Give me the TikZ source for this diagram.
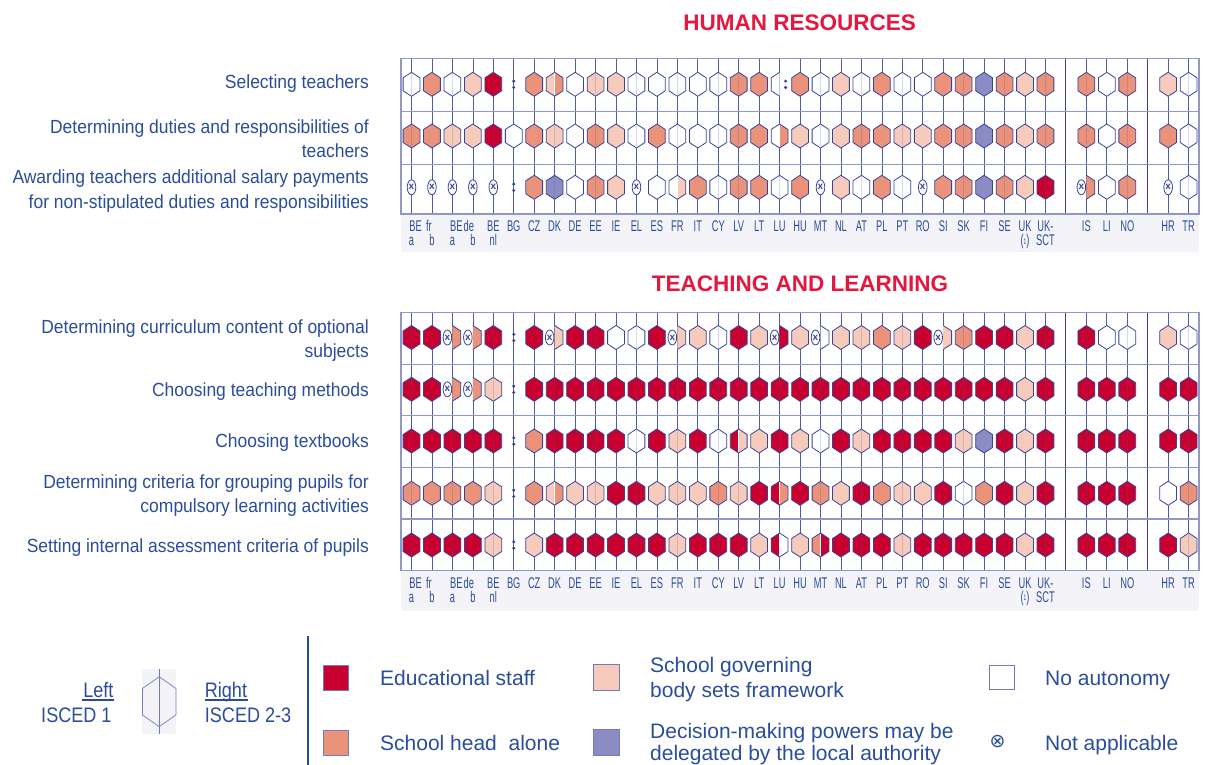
\documentclass[tikz,border=0pt]{standalone}
\usepackage{fontspec}
\setmainfont{Liberation Sans}
\newfontfamily\rowfont[FakeStretch=0.92]{Liberation Sans}
\newfontfamily\legfont[FakeStretch=0.86]{Liberation Sans}
\newfontfamily\ctyfont[FakeStretch=0.6]{Liberation Sans}
\newfontfamily\symfont{DejaVu Sans}
\definecolor{cR}{HTML}{C8002F}
\definecolor{cH}{HTML}{EA927A}
\definecolor{cG}{HTML}{F6CBBB}
\definecolor{cP}{HTML}{8C8CC4}
\definecolor{cW}{HTML}{FFFFFF}
\definecolor{txtblue}{HTML}{2A4D9C}
\definecolor{hexblue}{HTML}{3A4496}
\definecolor{gridv}{HTML}{4F5AA8}
\definecolor{gridh}{HTML}{9297CA}
\definecolor{titlered}{HTML}{E5173F}
\definecolor{stripc}{HTML}{F4F4F8}
\definecolor{sepblue}{HTML}{2A4AA0}
\newcommand\hxw{8.4}
\newcommand\hxs{6.5}
\newcommand\hxt{12}
\newcommand\halfL[3]{%
  \fill[c#3] (#1,#2-\hxt) -- (#1-\hxw,#2-\hxs) -- (#1-\hxw,#2+\hxs) -- (#1,#2+\hxt) -- cycle;
  \draw[hexline] (#1,#2-\hxt) -- (#1-\hxw,#2-\hxs) -- (#1-\hxw,#2+\hxs) -- (#1,#2+\hxt);}
\newcommand\halfR[3]{%
  \fill[c#3] (#1,#2-\hxt) -- (#1+\hxw,#2-\hxs) -- (#1+\hxw,#2+\hxs) -- (#1,#2+\hxt) -- cycle;
  \draw[hexline] (#1,#2-\hxt) -- (#1+\hxw,#2-\hxs) -- (#1+\hxw,#2+\hxs) -- (#1,#2+\hxt);}
\newcommand\notavail[2]{\fill[hexblue] (#1,#2-3.2) circle (1.7) (#1,#2+3.2) circle (1.7);}
\newcommand\naell[2]{%
  \draw[hexline,fill=white] (#1,#2) ellipse (4.3 and 7.5);
  \path (#1,#2) node[font=\bfseries\fontsize{10}{10}\selectfont, text=hexblue, inner sep=0] {x};}
\def\cellx#1#2#3#4\relax{%
  \if#3S\else
  \if#3N\notavail{#1}{#2}\else
  \if#3X
    \if#4X\naell{#1}{#2}\else\naell{#1-5}{#2}\halfR{#1}{#2}{#4}\fi
  \else
    \if#4N\halfL{#1}{#2}{#3}\notavail{#1+6}{#2}\else
      \halfL{#1}{#2}{#3}\halfR{#1}{#2}{#4}%
      \if#3#4\else\draw[white,line width=0.7pt] (#1,#2-11) -- (#1,#2+11);\fi
    \fi
  \fi\fi\fi}
\newcommand\drawrow[2]{%
  \foreach \code [count=\k from 0] in {#2} {
    \pgfmathsetmacro\cx{411.5+20.45*\k}
    \edef\tmp{\noexpand\cellx{\cx}{#1}\code\noexpand\relax}\tmp
  }}
\newcommand\chartframe[3]{%
  \fill[stripc] (401,#2) rectangle (1199,#3);
  \fill[white] (401,#1) rectangle (1199,#2);
  \foreach \k in {0,...,31,33,34,35,37,38} {\draw[vline] ({411.5+20.45*\k},#1) -- ({411.5+20.45*\k},#2);}
  \draw[sepline] (1065.9,#1) -- (1065.9,#2);
  \draw[sepline] (1147.7,#1) -- (1147.7,#2);}
\newcommand\supone{(\raisebox{1.5pt}{\fontsize{8}{8}\selectfont 1})}
\newcommand\ctylabels[1]{%
  \foreach \k/\dx/\la/\lb in {0/4/BE/a,1/-3/fr/b,2/4/BE/a,3/-4/de/b,4/0/BE/nl,5/0/BG/,6/0/CZ/,7/0/DK/,8/0/DE/,9/0/EE/,10/0/IE/,11/0/EL/,12/0/ES/,13/0/FR/,14/0/IT/,15/0/CY/,16/0/LV/,17/0/LT/,18/0/LU/,19/0/HU/,20/0/MT/,21/0/NL/,22/0/AT/,23/0/PL/,24/0/PT/,25/0/RO/,26/0/SI/,27/0/SK/,28/0/FI/,29/0/SE/,30/0/UK/\supone,31/0/UK-/SCT,33/0/IS/,34/0/LI/,35/0/NO/,37/0/HR/,38/0/TR/} {
    \node[ctylab] (ca\k-#1) at ({411.5+20.45*\k+\dx},#1+17.7) {\la};
    \node[ctylab] (cb\k-#1) at ({411.5+20.45*\k},#1+31.5) {\lb};
  }}
\begin{document}
\begin{tikzpicture}[x=1pt,y=-1pt,
  hexline/.style={draw=hexblue,line width=0.8pt,line join=round},
  vline/.style={draw=gridv,line width=0.7pt},
  hline/.style={draw=gridh,line width=1.2pt},
  sepline/.style={draw=hexblue,line width=0.9pt},
  rowlab/.style={anchor=base east,inner sep=0,text=txtblue,font=\rowfont\fontsize{19}{23}\selectfont},
  ctylab/.style={anchor=base,inner sep=0,text=txtblue,font=\ctyfont\fontsize{15.5}{16}\selectfont},
  legtxt/.style={anchor=base west,inner sep=0,text=txtblue,font=\fontsize{21}{25}\selectfont},
  legleft/.style={inner sep=0,text=txtblue,font=\legfont\fontsize{21}{25}\selectfont},
  titletxt/.style={anchor=base,inner sep=0,text=titlered,font=\bfseries\fontsize{22.5}{26}\selectfont},
  legsq/.style={draw=hexblue!70,line width=0.6pt}]
\useasboundingbox (0,0) rectangle (1208,765);
\fill[white] (0,0) rectangle (1208,765);

% ---------- titles
\node[titletxt] (t1) at (799.7,30.7) {HUMAN RESOURCES};
\node[titletxt] (t2) at (800,291) {TEACHING AND LEARNING};

% ---------- chart 1
\chartframe{58.3}{214}{252}
\draw[hline] (401,111.7) -- (1199,111.7);
\draw[hline] (401,164.3) -- (1199,164.3);
\draw[hline] (401,58.3) rectangle (1199,214);
\drawrow{84.3}{WW,HH,WW,GG,RR,NN,HH,GH,WW,GG,GG,WW,WW,WW,WW,WW,HH,HH,WN,HH,WW,GG,WW,HH,WW,WW,HH,HH,PP,HH,GG,HH,SS,HH,WW,HH,SS,GG,WW}
\drawrow{136}{HH,HH,GG,GG,RR,WW,HH,GG,WW,HH,GG,WW,HH,WW,WW,WW,HH,HH,WH,GG,WW,GG,HH,HH,GG,GG,HH,HH,PP,HH,GG,HH,SS,HH,WW,HH,SS,HH,WW}
\drawrow{187.3}{XX,XX,XX,XX,XX,NN,HH,PP,WW,HH,GG,XX,WW,WG,HH,WW,HH,HH,WW,HH,XX,GG,WW,HH,WW,XX,HH,HH,PP,HH,GG,RR,SS,XH,WW,HH,SS,XX,WW}
\ctylabels{214}

\node[rowlab] (r1) at (369,89) {Selecting teachers};
\node[rowlab] (r2a) at (369,134) {Determining duties and responsibilities of};
\node[rowlab] (r2b) at (369,157.3) {teachers};
\node[rowlab] (r3a) at (369,184) {Awarding teachers additional salary payments};
\node[rowlab] (r3b) at (369,208) {for non-stipulated duties and responsibilities};

% ---------- chart 2
\chartframe{312.3}{570.7}{611}
\foreach \yy in {364.3,415.5,467.3,519} {\draw[hline] (401,\yy) -- (1199,\yy);}
\draw[hline] (401,312.3) rectangle (1199,570.7);
\drawrow{337.5}{RR,RR,XH,XH,RR,NN,RR,XG,RR,RR,WW,WW,RR,XG,GG,WW,RR,GG,XR,GG,XW,GG,GG,HH,GG,RR,XG,HH,RR,RR,GG,RR,SS,RR,WW,WW,SS,GG,WW}
\drawrow{389.3}{RR,RR,XH,XH,GG,NN,RR,RR,RR,RR,RR,RR,RR,RR,RR,RR,RR,RR,RR,RR,RR,RR,RR,RR,RR,RR,RR,RR,RR,RR,GG,RR,SS,RR,RR,RR,SS,RR,RR}
\drawrow{441}{RR,RR,RR,RR,RR,NN,HH,RR,RR,RR,RR,WW,RR,GG,RR,WW,RG,GG,RR,GG,WW,RR,GG,RR,RR,RR,RR,GG,PP,RR,GG,RR,SS,RR,RR,RR,SS,RR,RR}
\drawrow{493.3}{HH,HH,HH,HH,GG,NN,HH,GH,GG,GG,RR,RR,GG,GG,GG,HH,GG,RR,RH,RR,HH,GG,RR,HH,GG,GG,RR,WW,HH,RR,GG,RR,SS,RR,RR,RR,SS,WW,HH}
\drawrow{545}{RR,RR,RR,RR,GG,NN,GG,RR,RR,RR,RR,RR,RR,GG,RR,RR,RR,GG,RW,GG,HR,RR,RR,RR,GG,RR,RR,RR,RR,RR,GG,RR,SS,RR,RR,RR,SS,RR,GG}
\ctylabels{570.7}

\node[rowlab] (s1a) at (369,333) {Determining curriculum content of optional};
\node[rowlab] (s1b) at (369,357) {subjects};
\node[rowlab] (s2) at (369,396) {Choosing teaching methods};
\node[rowlab] (s3) at (369,447) {Choosing textbooks};
\node[rowlab] (s4a) at (369,488) {Determining criteria for grouping pupils for};
\node[rowlab] (s4b) at (369,512) {compulsory learning activities};
\node[rowlab] (s5) at (369,552) {Setting internal assessment criteria of pupils};

% ---------- legend, left part
\fill[stripc] (141.6,669) rectangle (176,734);
\draw[draw=gridv!80,line width=0.7pt] (159.2,669) -- (159.2,734);
\draw[draw=gridv!80,line width=0.7pt] (159.2,676.7) -- (176,688.5) -- (176,714.9) -- (159.2,726.7) -- (142.4,714.9) -- (142.4,688.5) -- cycle;
\node[legleft,anchor=base east] (lL) at (113.7,697) {Left};
\draw[sepblue,line width=1.5pt] (82,700) -- (113.7,700);
\node[legleft,anchor=base east] (lI1) at (111.7,722.5) {ISCED 1};
\node[legleft,anchor=base west] (lR) at (204.7,697) {Right};
\draw[sepblue,line width=1.5pt] (204.7,700) -- (248,700);
\node[legleft,anchor=base west] (lI2) at (204.7,722.5) {ISCED 2-3};
\draw[sepblue,line width=2.2pt] (308,636) -- (308,765);

% ---------- legend, keys
\draw[legsq,fill=cR] (323.5,665) rectangle (348.5,690);
\node[legtxt] (k1) at (380,685.5) {Educational staff};
\draw[legsq,fill=cH] (323.5,730) rectangle (348.5,755);
\node[legtxt] (k2) at (380,750.5) {School head\ \ alone};
\draw[legsq,fill=cG] (593,664) rectangle (619,690);
\node[legtxt] (k3a) at (650,672.5) {School governing};
\node[legtxt] (k3b) at (650,697.5) {body sets framework};
\draw[legsq,fill=cP] (593,729) rectangle (619,755);
\node[legtxt] (k4a) at (650,738) {Decision-making powers may be};
\node[legtxt] (k4b) at (650,760.5) {delegated by the local authority};
\draw[legsq,fill=white] (989,665) rectangle (1014,689);
\node[legtxt] (k5) at (1045,685.5) {No autonomy};
\node[inner sep=0,text=txtblue,font=\symfont\fontsize{19}{19}\selectfont] (k6s) at (997.5,742) {⊗};
\node[legtxt] (k6) at (1045,750.5) {Not applicable};
\end{tikzpicture}
\end{document}
